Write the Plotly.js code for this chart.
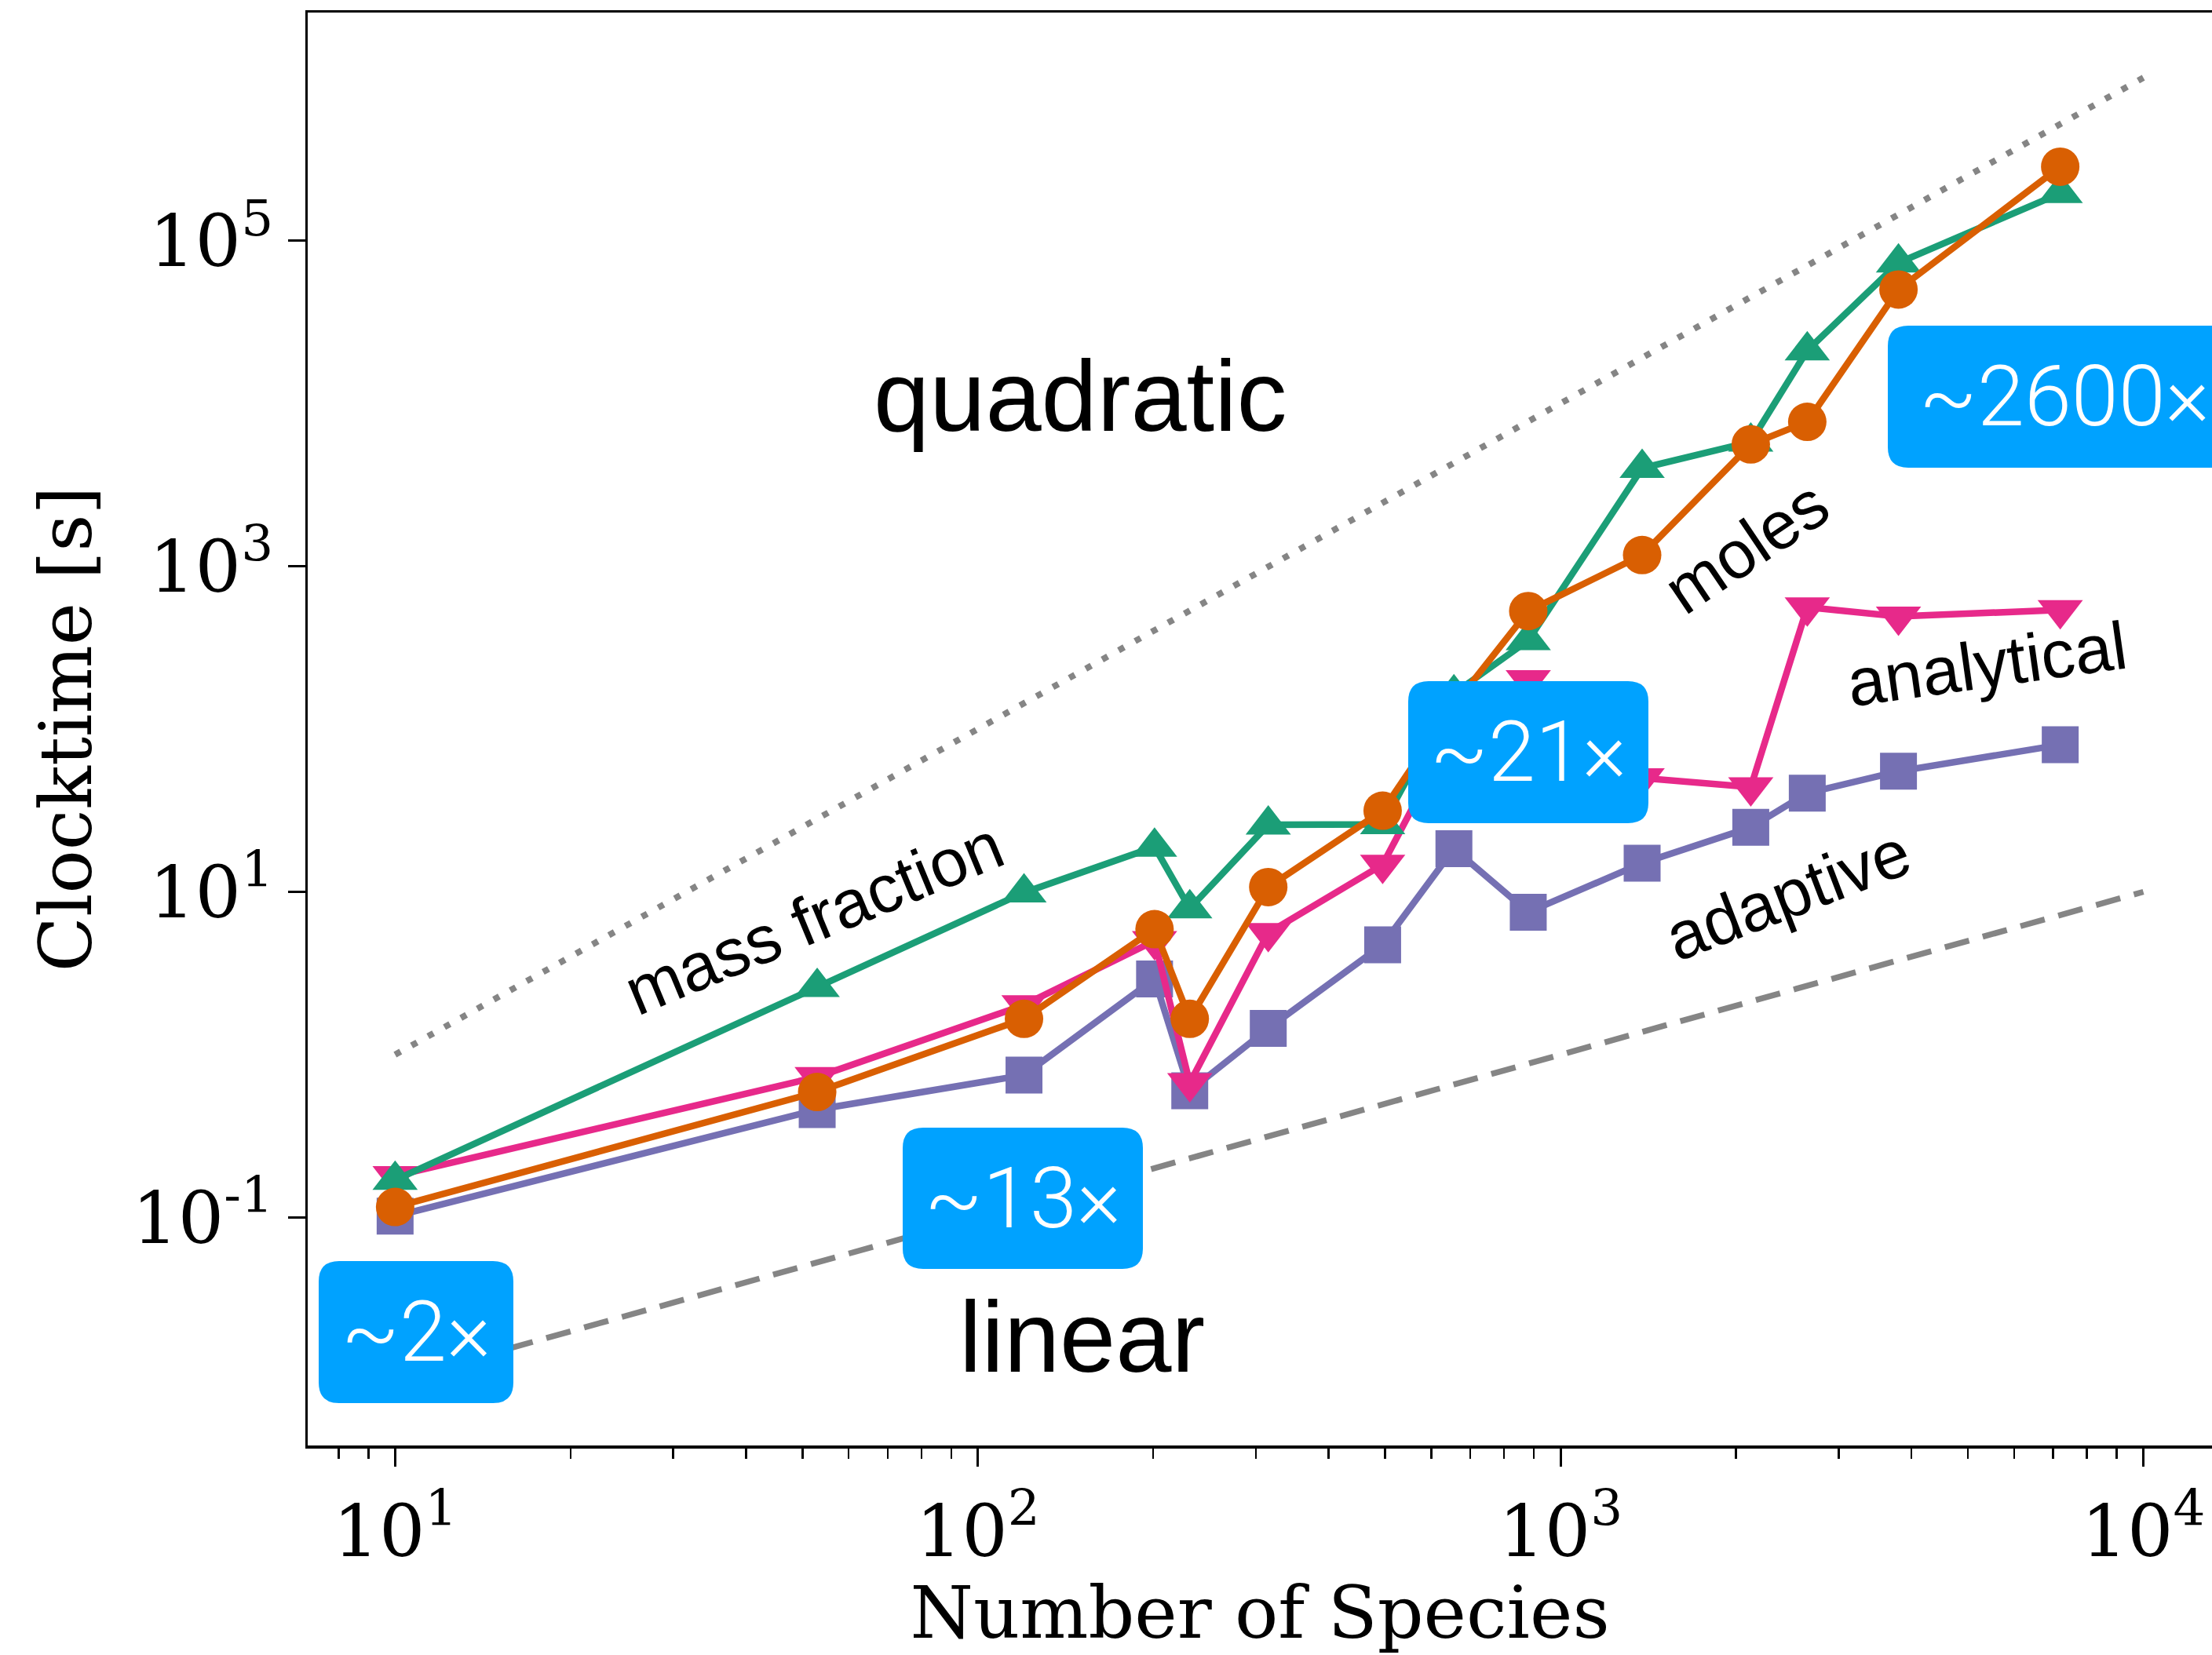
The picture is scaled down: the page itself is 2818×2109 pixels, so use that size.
<!DOCTYPE html>
<html>
<head>
<meta charset="utf-8">
<script src="https://cdn.plot.ly/plotly-3.0.1.min.js"></script>
<style>html,body{margin:0;padding:0;background:#fff;}#chart{width:2818px;height:2109px;}</style>
</head>
<body>
<div id="chart"></div>
<script>
// ---- data ----
const species      = [10, 53, 120, 201, 231, 315, 495, 656, 880, 1380, 2120, 2650, 3800, 7200];
const massFraction = [0.17, 2.6, 9.9, 18.9, 7.9, 25.8, 26, 165, 350, 4000, 5800, 21100, 73000, 195000];
const moles        = [0.116, 0.59, 1.66, 5.9, 1.66, 10.7, 31.5, 140, 530, 1170, 5600, 7700, 50000, 284000];
const analytical   = [0.18, 0.73, 2.02, 5.0, 0.67, 5.6, 14.7, 100, 200, 50, 44, 560, 492, 538];
const adaptive     = [0.102, 0.46, 0.75, 2.92, 0.60, 1.45, 4.73, 18.4, 7.5, 15.0, 24.9, 40.4, 55, 80];

const refX       = [10, 10000];
const quadraticY = [1, 1000000];
const linearY    = [0.01, 10];

const xTickVals = [10, 100, 1000, 10000];
const xTickText = ['10<sup>1</sup>', '10<sup>2</sup>', '10<sup>3</sup>', '10<sup>4</sup>'];
const yTickVals = [0.1, 10, 1000, 100000];
const yTickText = ['10<sup>-1</sup>', '10<sup>1</sup>', '10<sup>3</sup>', '10<sup>5</sup>'];

const seriesNames = ['adaptive', 'analytical', 'mass fraction', 'moles'];
const speedups = ['~2×', '~13×', '~21×', '~2600×'];

// ---- geometry ----
const W = 2818, H = 2109, ML = 392, MR = 0, MT = 16, MB = 267;
const PW = W - ML - MR, PH = H - MT - MB;
const px = v => (v - ML) / PW;
const py = v => (H - MB - v) / PH;
const decadePx = 742.4;

function rrect(x0, y0, x1, y1, r) {
  const X = v => px(v).toFixed(5), Y = v => py(v).toFixed(5);
  return 'M' + X(x0 + r) + ',' + Y(y0) +
    ' L' + X(x1 - r) + ',' + Y(y0) +
    ' Q' + X(x1) + ',' + Y(y0) + ' ' + X(x1) + ',' + Y(y0 + r) +
    ' L' + X(x1) + ',' + Y(y1 - r) +
    ' Q' + X(x1) + ',' + Y(y1) + ' ' + X(x1 - r) + ',' + Y(y1) +
    ' L' + X(x0 + r) + ',' + Y(y1) +
    ' Q' + X(x0) + ',' + Y(y1) + ' ' + X(x0) + ',' + Y(y1 - r) +
    ' L' + X(x0) + ',' + Y(y0 + r) +
    ' Q' + X(x0) + ',' + Y(y0) + ' ' + X(x0 + r) + ',' + Y(y0) + ' Z';
}

const minorX = [];
for (let d = 0; d <= 4; d++) for (let k = 2; k <= 9; k++) minorX.push(k * Math.pow(10, d));

const green = '#1b9e77', orange = '#d95f02', pink = '#e7298a', purple = '#7570b3';
const LW = 8.5;

const traces = [
  {x: refX, y: quadraticY, mode: 'lines', name: 'quadratic', showlegend: false,
   line: {color: '#858585', width: 8, dash: '8px,16px'}},
  {x: refX, y: linearY, mode: 'lines', name: 'linear', showlegend: false,
   line: {color: '#858585', width: 7.5, dash: '32px,18px'}},
  {x: species, y: adaptive, mode: 'lines+markers', name: seriesNames[0],
   line: {color: purple, width: LW}, marker: {symbol: 'square', size: 47, color: purple}},
  {x: species, y: analytical, mode: 'lines+markers', name: seriesNames[1],
   line: {color: pink, width: LW}, marker: {symbol: 'triangle-down', size: 50, color: pink}},
  {x: species, y: massFraction, mode: 'lines+markers', name: seriesNames[2],
   line: {color: green, width: LW}, marker: {symbol: 'triangle-up', size: 50, color: green}},
  {x: species, y: moles, mode: 'lines+markers', name: seriesNames[3],
   line: {color: orange, width: LW}, marker: {symbol: 'circle', size: 49, color: orange}}
];

const serif = {family: 'DejaVu Serif', size: 92, color: '#000'};
const sans = 'Liberation Sans, Arial, Helvetica, sans-serif';
const blue = '#00a2ff';

const boxes = [
  [406, 1607, 654, 1788],
  [1150, 1437, 1456, 1617],
  [1794, 868, 2100, 1049],
  [2405, 415, 2880, 596]
];
const boxText = [[530, 1697], [1303, 1527], [1947, 958], [2630, 505]];

const shapes = boxes.map(b => ({
  type: 'path', xref: 'paper', yref: 'paper', layer: 'above',
  path: rrect(b[0], b[1], b[2], b[3], 26),
  fillcolor: blue, line: {width: 0}
}));

const annotations = [];
speedups.forEach((t, i) => annotations.push({
  xref: 'paper', yref: 'paper', x: px(boxText[i][0]), y: py(boxText[i][1]),
  xanchor: 'center', yanchor: 'middle', showarrow: false, text: t,
  font: {family: 'Roboto, ' + sans, size: 108, color: '#fff', weight: 300}
}));
const labels = [
  ['quadratic', 1376, 504, 0, 128],
  ['linear', 1378, 1703, 0, 128],
  ['mass fraction', 1036, 1170, -22.5, 86],
  ['moles', 2224, 697, -34, 86],
  ['analytical', 2531, 846, -8, 86],
  ['adaptive', 2277, 1140, -21, 86]
];
labels.forEach(l => annotations.push({
  xref: 'paper', yref: 'paper', x: px(l[1]), y: py(l[2]),
  xanchor: 'center', yanchor: 'middle', showarrow: false, text: l[0],
  textangle: l[3], font: {family: sans, size: l[4], color: '#000'}
}));

const layout = {
  width: W, height: H,
  margin: {l: ML, r: MR, t: MT, b: MB, pad: 0},
  paper_bgcolor: '#fff', plot_bgcolor: '#fff',
  showlegend: false,
  xaxis: {
    type: 'log', range: [0.85, 0.85 + PW / decadePx], autorange: false,
    tickmode: 'array', tickvals: xTickVals, ticktext: xTickText,
    ticks: 'outside', ticklen: 23, tickwidth: 3, tickcolor: '#000',
    ticklabelstandoff: 4,
    showline: true, linewidth: 3.5, linecolor: '#000', mirror: true,
    showgrid: false, zeroline: false, tickfont: serif,
    minor: {tickmode: 'array', tickvals: minorX, ticks: 'outside', ticklen: 13, tickwidth: 2.5, tickcolor: '#000', showgrid: false},
    title: {text: 'Number of Species', font: {family: 'DejaVu Serif', size: 92, color: '#000'}, standoff: 10},
    automargin: false
  },
  yaxis: {
    type: 'log', range: [-2.4, 6.4], autorange: false,
    tickmode: 'array', tickvals: yTickVals, ticktext: yTickText,
    ticks: 'outside', ticklen: 22, tickwidth: 3, tickcolor: '#000',
    showline: true, linewidth: 3.5, linecolor: '#000', mirror: false,
    showgrid: false, zeroline: false, tickfont: serif,
    title: {text: 'Clocktime [s]', font: {family: 'DejaVu Serif', size: 92, color: '#000'}, standoff: 22},
    automargin: false
  },
  shapes: shapes,
  annotations: annotations
};

Plotly.newPlot('chart', traces, layout, {staticPlot: true, displayModeBar: false});
</script>
</body>
</html>
